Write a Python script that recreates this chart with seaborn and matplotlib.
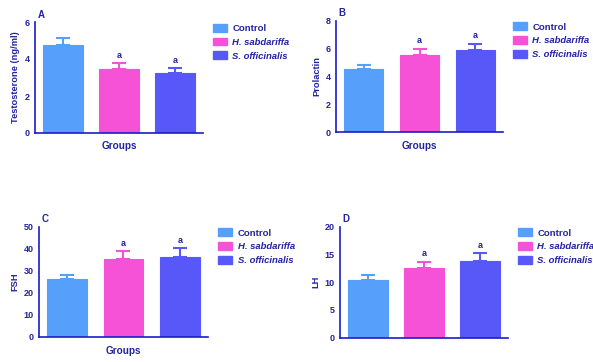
import numpy as np
import pandas as pd
import matplotlib
matplotlib.use("Agg")
import matplotlib.pyplot as plt
import seaborn as sns
from matplotlib.patches import Patch

# %% data
groups = ["Control", "H. sabdariffa", "S. officinalis"]
colors = ["#56A0FC", "#F552D7", "#5858F9"]

testo_mean = [4.75, 3.44, 3.23]
testo_err = [0.40, 0.33, 0.27]
prl_mean = [4.52, 5.54, 5.88]
prl_err = [0.33, 0.46, 0.47]
fsh_mean = [26.1, 35.2, 36.2]
fsh_err = [2.1, 3.7, 4.0]
lh_mean = [10.4, 12.5, 13.8]
lh_err = [0.95, 1.2, 1.4]

sig = ["", "a", "a"]

txt = "#2323a0"
axc = "#1c1cc8"

sns.set_style("white")
plt.rcParams['font.family'] = ['Liberation Sans', 'DejaVu Sans']
plt.rcParams['font.weight'] = 'bold'

fig = plt.figure(figsize=(5.93, 3.62), dpi=100)

# (letter, ylabel, means, errors, ymax, step, axes rect, xlabel pad)
panels = [
    ("A", "Testosterone (ng/ml)", testo_mean, testo_err, 6, 2, [35/593, 1 - 133/362, 168/593, 111/362], 2),
    ("B", "Prolactin", prl_mean, prl_err, 8, 2, [336/593, 1 - 132.3/362, 167/593, 111.6/362], 2),
    ("C", "FSH", fsh_mean, fsh_err, 50, 10, [39/593, 1 - 336.7/362, 169/593, 110/362], 3),
    ("D", "LH", lh_mean, lh_err, 20, 5, [340/593, 1 - 337.7/362, 168/593, 111/362], 16),
]

for letter, ylab, mean, err, ymax, step, pos, lpad in panels:
    ax = fig.add_axes(pos)
    df = pd.DataFrame({"group": groups, "value": mean})
    sns.barplot(data=df, x="group", y="value", hue="group", palette=colors,
                order=groups, hue_order=groups, width=0.7, errorbar=None,
                saturation=1, legend=False, ax=ax, linewidth=0.8)
    for i, p in enumerate(ax.patches):
        p.set_edgecolor(colors[i])
    x = np.arange(len(groups))
    for i in range(len(groups)):
        ax.errorbar(x[i], mean[i], yerr=[[0], [err[i]]], fmt="none",
                    ecolor=colors[i], elinewidth=1.5, capsize=5, capthick=1.5, zorder=3)
        if sig[i]:
            ax.text(x[i], mean[i] + err[i] + ymax * 0.03, sig[i], ha="center",
                    va="bottom", fontsize=6.5, color=txt, fontweight="bold")
    ax.set_ylim(0, ymax)
    ax.set_xlim(-0.5, 2.5)
    ax.set_yticks(np.arange(0, ymax + 0.01, step))
    ax.set_xticks([1])
    ax.set_xticklabels([""])
    ax.set_xlabel("Groups", fontsize=7.2, color=txt, fontweight="bold", labelpad=lpad)
    ax.set_ylabel(ylab, fontsize=6.7, color=txt, fontweight="bold", labelpad=3)
    for s in ["top", "right"]:
        ax.spines[s].set_visible(False)
    for s in ["left", "bottom"]:
        ax.spines[s].set_color(axc)
        ax.spines[s].set_linewidth(1.2)
    ax.tick_params(axis="both", colors=axc, length=3, width=1.2, direction="out",
                   labelsize=6.5, labelcolor=txt, pad=1)
    ax.text(0.015, 1.02, letter, transform=ax.transAxes, ha="left", va="bottom",
            fontsize=7, color=txt, fontweight="bold")

    handles = [Patch(facecolor=c, edgecolor=c) for c in colors]
    leg = ax.legend(handles, groups, loc="upper left", bbox_to_anchor=(1.06, 0.985),
                    frameon=False, fontsize=6.8, handlelength=1.5, handleheight=0.9,
                    labelspacing=0.5, handletextpad=0.55, borderaxespad=0,
                    borderpad=0)
    for j, t in enumerate(leg.get_texts()):
        t.set_color(txt)
        t.set_fontweight("bold")
        if j > 0:
            t.set_fontstyle("italic")

fig.savefig("out.png", dpi=100)
